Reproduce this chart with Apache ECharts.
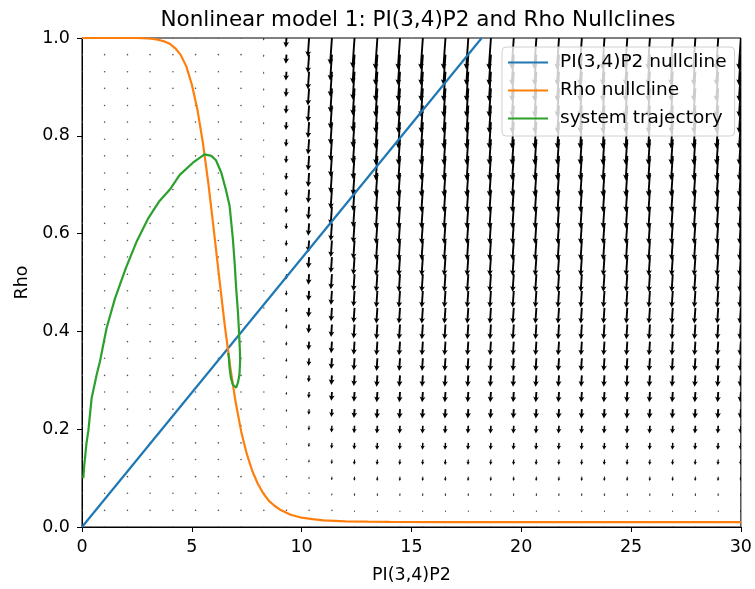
<!DOCTYPE html>
<html>
<head>
<meta charset="utf-8">
<script src="https://cdn.jsdelivr.net/npm/echarts@6/dist/echarts.min.js"></script>
<style>
  html, body { margin: 0; padding: 0; background: #fff; }
  #container { width: 755px; height: 589px; }
</style>
</head>
<body>
<div id="container"></div>
<script>
var dom = document.getElementById('container');
var myChart = echarts.init(dom, null, { renderer: 'canvas' });

// nullclines and trajectory
var pipNullcline = [[0, 0], [18.2, 1.0]];
var rhoNullcline = [
    [0, 1.0], [2, 1.0], [2.5, 1.0], [3, 0.999], [3.25, 0.998], [3.5, 0.996], [3.75, 0.993],
    [4, 0.988], [4.25, 0.979], [4.5, 0.965], [4.75, 0.942], [5, 0.905], [5.25, 0.855],
    [5.5, 0.787], [5.75, 0.704], [6, 0.608], [6.25, 0.509], [6.5, 0.413], [6.75, 0.327],
    [7, 0.254], [7.25, 0.195], [7.5, 0.150], [7.75, 0.115], [8, 0.089], [8.25, 0.069],
    [8.5, 0.054], [8.75, 0.044], [9, 0.036], [9.5, 0.025], [10, 0.019], [10.5, 0.016],
    [11, 0.0135], [12, 0.0115], [13, 0.0108], [14, 0.0104], [17, 0.0101], [20, 0.01],
    [25, 0.01], [30, 0.01]
];
var trajectory = [
    [0.06, 0.10], [0.10, 0.125], [0.14, 0.142], [0.2, 0.17], [0.29, 0.197], [0.44, 0.264],
    [0.67, 0.312], [0.82, 0.339], [1.12, 0.407], [1.5, 0.467], [2.0, 0.53], [2.5, 0.585],
    [3.0, 0.63], [3.5, 0.665], [4.0, 0.69], [4.45, 0.72], [5.05, 0.745], [5.58, 0.762],
    [5.89, 0.759], [6.1, 0.75], [6.34, 0.725], [6.55, 0.69], [6.72, 0.657], [6.87, 0.589],
    [6.95, 0.54], [7.02, 0.488], [7.1, 0.44], [7.14, 0.407], [7.19, 0.36], [7.2, 0.339],
    [7.17, 0.312], [7.1, 0.295], [7.02, 0.285], [6.93, 0.286], [6.87, 0.291], [6.78, 0.305],
    [6.72, 0.325], [6.69, 0.345], [6.66, 0.356]
];

// quiver grid (30 x 30)
var fieldX = [0, 1.03, 2.07, 3.10, 4.14, 5.17, 6.21, 7.24, 8.28, 9.31, 10.34, 11.38, 12.41, 13.45,
    14.48, 15.52, 16.55, 17.59, 18.62, 19.66, 20.69, 21.72, 22.76, 23.79, 24.83, 25.86, 26.90,
    27.93, 28.97, 30];
var fieldY = [0, 0.034, 0.069, 0.103, 0.138, 0.172, 0.207, 0.241, 0.276, 0.310, 0.345, 0.379,
    0.414, 0.448, 0.483, 0.517, 0.552, 0.586, 0.621, 0.655, 0.690, 0.724, 0.759, 0.793, 0.828,
    0.862, 0.897, 0.931, 0.966, 1.0];
// relative arrow strength per column
var colSpeed = [0.02, 0.02, 0.02, 0.02, 0.02, 0.02, 0.02, 0.03, 0.08, 0.3, 0.6, 0.85, 0.95, 1,
    1, 1, 1, 1, 1, 1, 1, 1, 1, 1, 1, 1, 1, 1, 1, 1];
// downward drop of an arrow per row (rho units, full strength)
var rowDrop = [0, 0.004, 0.006, 0.009, 0.011, 0.014, 0.016, 0.019, 0.021, 0.023, 0.026, 0.028,
    0.030, 0.032, 0.034, 0.036, 0.038, 0.040, 0.042, 0.044, 0.046, 0.048, 0.050, 0.052, 0.054,
    0.056, 0.058, 0.060, 0.062, 0.064];

var quiver = [];
for (var i = 0; i < fieldX.length; i++) {
    for (var j = 0; j < fieldY.length; j++) {
        quiver.push([fieldX[i], fieldY[j], rowDrop[j] * colSpeed[i]]);
    }
}

function renderArrow(params, api) {
    var x = api.value(0), y = api.value(1), d = api.value(2);
    var p0 = api.coord([x, y]);
    var p1 = api.coord([x, y - d]);
    var len = p1[1] - p0[1];
    if (len < 1.8) {
        return {
            type: 'circle',
            shape: { cx: p0[0], cy: p0[1], r: 0.8 },
            style: { fill: '#555' }
        };
    }
    var end = [p0[0] - 0.07 * len, p1[1]];
    var vx = end[0] - p0[0], vy = end[1] - p0[1];
    var L = Math.sqrt(vx * vx + vy * vy);
    var ux = vx / L, uy = vy / L;
    var nx = -uy, ny = ux;
    var s = Math.min(1, L / 9);
    var hl = 5.5 * s, hw = 2.9 * s, sw = 0.95 * s;
    var bx = end[0] - ux * hl * 0.85, by = end[1] - uy * hl * 0.85;
    var hx = end[0] - ux * hl, hy = end[1] - uy * hl;
    var pts = [
        [p0[0] + nx * sw, p0[1] + ny * sw],
        [bx + nx * sw, by + ny * sw],
        [hx + nx * hw, hy + ny * hw],
        end,
        [hx - nx * hw, hy - ny * hw],
        [bx - nx * sw, by - ny * sw],
        [p0[0] - nx * sw, p0[1] - ny * sw]
    ];
    return {
        type: 'polygon',
        shape: { points: pts },
        style: { fill: '#000' }
    };
}

var font = 'DejaVu Sans';

option = {
    animation: false,
    backgroundColor: '#fff',
    title: {
        text: 'Nonlinear model 1: PI(3,4)P2 and Rho Nullclines',
        left: 413,
        top: 4,
        textAlign: 'center',
        textStyle: { fontFamily: font, fontSize: 21.5, fontWeight: 'normal', color: '#000' }
    },
    grid: {
        left: 82, right: 12, top: 38, bottom: 59,
        show: true, borderColor: '#000', borderWidth: 1, backgroundColor: 'transparent'
    },
    legend: {
        orient: 'vertical',
        left: 502,
        top: 47,
        data: ['PI(3,4)P2 nullcline', 'Rho nullcline', 'system trajectory'],
        icon: 'rect',
        itemWidth: 40,
        itemHeight: 2,
        itemGap: 7,
        padding: [5, 8, 7, 6],
        backgroundColor: 'rgba(255,255,255,0.8)',
        borderColor: '#d0d0d0',
        borderWidth: 1,
        borderRadius: 4,
        textStyle: { fontFamily: font, fontSize: 18.5, color: '#000', lineHeight: 21, padding: [0, 0, 0, 7] }
    },
    xAxis: {
        type: 'value',
        min: 0, max: 30, interval: 5,
        name: 'PI(3,4)P2',
        nameLocation: 'middle',
        nameGap: 39,
        nameTextStyle: { fontFamily: font, fontSize: 17.5, color: '#000' },
        axisLine: { show: true, lineStyle: { color: '#000', width: 1 } },
        axisTick: { show: true, length: 5, lineStyle: { color: '#000' } },
        axisLabel: { fontFamily: font, fontSize: 17.5, color: '#000', margin: 11 },
        splitLine: { show: false }
    },
    yAxis: {
        type: 'value',
        min: 0, max: 1, interval: 0.2,
        name: 'Rho',
        nameLocation: 'middle',
        nameGap: 51,
        nameRotate: 90,
        nameTextStyle: { fontFamily: font, fontSize: 17.5, color: '#000' },
        axisLine: { show: true, lineStyle: { color: '#000', width: 1 } },
        axisTick: { show: true, length: 5, lineStyle: { color: '#000' } },
        axisLabel: {
            fontFamily: font, fontSize: 17.5, color: '#000', margin: 12,
            formatter: function (v) { return v.toFixed(1); }
        },
        splitLine: { show: false }
    },
    series: [
        {
            name: 'field',
            type: 'custom',
            renderItem: renderArrow,
            data: quiver,
            clip: true,
            silent: true,
            z: 1
        },
        {
            name: 'PI(3,4)P2 nullcline',
            type: 'line',
            data: pipNullcline,
            symbol: 'none',
            lineStyle: { color: '#1f77b4', width: 2.2 },
            itemStyle: { color: '#1f77b4' },
            z: 3
        },
        {
            name: 'Rho nullcline',
            type: 'line',
            data: rhoNullcline,
            symbol: 'none',
            lineStyle: { color: '#ff7f0e', width: 2.2 },
            itemStyle: { color: '#ff7f0e' },
            z: 4
        },
        {
            name: 'system trajectory',
            type: 'line',
            data: trajectory,
            symbol: 'none',
            lineStyle: { color: '#2ca02c', width: 2.2 },
            itemStyle: { color: '#2ca02c' },
            z: 5
        }
    ]
};
myChart.setOption(option);

window.addEventListener('resize', function () {
    myChart.resize();
});
</script>
</body>
</html>
